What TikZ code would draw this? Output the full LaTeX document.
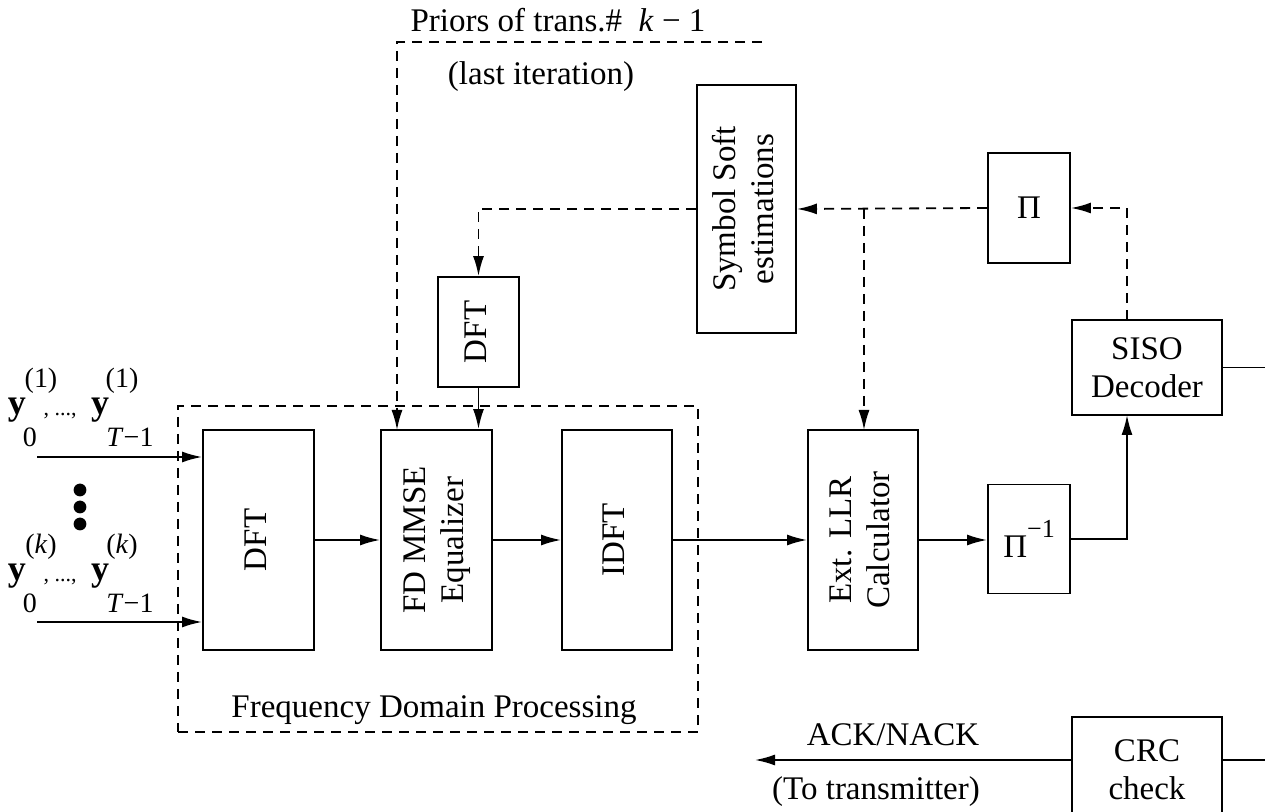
\documentclass[tikz,border=0pt]{standalone}
\usepackage{fontspec}
\setmainfont{Liberation Serif}
\usetikzlibrary{arrows.meta}
\newcommand{\vtext}[1]{\rotatebox{90}{\begin{tabular}{@{}c@{}}#1\end{tabular}}}
\begin{document}
\begin{tikzpicture}[x=0.5pt,y=-0.5pt,
  font=\fontsize{16.5}{19}\selectfont,
  blk/.style={draw,line width=0.95pt,inner sep=0pt,align=center},
  arr/.style={line width=0.9pt,-{Latex[length=10pt,width=5.5pt]}},
  darr/.style={line width=0.9pt,dash pattern=on 5pt off 3.5pt,-{Latex[length=10pt,width=5.5pt]}},
  ln/.style={line width=0.9pt},
  dsh/.style={line width=0.9pt,dash pattern=on 5pt off 3.5pt},
  sm/.style={font=\fontsize{14}{16}\selectfont,inner sep=0pt}]
\useasboundingbox (0,0) rectangle (1265,812);
\clip (0,0) rectangle (1265,812);
% frame
\node[draw,dsh,minimum width=260pt,minimum height=163pt,inner sep=0pt] (frame) at (438,569) {};
\node (fdp) at (434,710) {Frequency Domain Processing};
% blocks
\node[blk,minimum width=55.5pt,minimum height=110pt] (dft) at (258.5,540) {\vtext{DFT}};
\node[blk,minimum width=55.5pt,minimum height=110pt] (eq) at (436.5,540) {\vtext{FD MMSE\\Equalizer}};
\node[blk,minimum width=55pt,minimum height=110pt] (idft) at (617,540) {\vtext{IDFT}};
\node[blk,minimum width=55pt,minimum height=110pt] (llr) at (863,540) {\vtext{Ext. LLR\\Calculator}};
\node[blk,minimum width=41pt,minimum height=54.5pt] (pinv) at (1029,539) {Π\raisebox{1.3ex}{\fontsize{13}{15}\selectfont −1}};
\node[blk,minimum width=75pt,minimum height=47.5pt] (siso) at (1147,367.5) {SISO\\Decoder};
\node[blk,minimum width=41pt,minimum height=55pt] (pi) at (1029,208) {Π};
\node[blk,minimum width=49.5pt,minimum height=124pt] (sse) at (746.5,209) {\vtext{Symbol Soft\\estimations}};
\node[blk,minimum width=40.5pt,minimum height=55pt] (dft2) at (478.5,332) {\vtext{DFT}};
\node[blk,minimum width=75pt,minimum height=53pt] (crc) at (1147,770) {CRC\\check};
% texts
\node (prior) at (558,20) {Priors of trans.\#\ \ \textit{k} − 1};
\node (last) at (541,77) {(last iteration)};
\node (ack) at (893,735) {ACK/NACK};
\node (tot) at (876,792) {(To transmitter)};
% inputs
\node[inner sep=0pt,font=\fontsize{18}{20}\selectfont] (y1a) at (17,410) {\textbf{y}};
\node[sm] (s1a) at (41,381) {(1)};
\node[sm] (b1a) at (30,437) {0};
\node[sm,font=\fontsize{11}{13}\selectfont] (c1) at (60,416) {, ...,};
\node[inner sep=0pt,font=\fontsize{18}{20}\selectfont] (y1b) at (100,410) {\textbf{y}};
\node[sm] (s1b) at (122,381) {(1)};
\node[sm] (b1b) at (130,437) {\textit{T}−1};
\node[inner sep=0pt,font=\fontsize{18}{20}\selectfont] (y2a) at (17,576) {\textbf{y}};
\node[sm] (s2a) at (41,547) {(\textit{k})};
\node[sm] (b2a) at (30,603) {0};
\node[sm,font=\fontsize{11}{13}\selectfont] (c2) at (60,582) {, ...,};
\node[inner sep=0pt,font=\fontsize{18}{20}\selectfont] (y2b) at (100,576) {\textbf{y}};
\node[sm] (s2b) at (122,547) {(\textit{k})};
\node[sm] (b2b) at (130,603) {\textit{T}−1};
\fill (80,490) circle (3.2pt) (80,507) circle (3.2pt) (80,524) circle (3.2pt);
\coordinate (in1) at (37,457);
\coordinate (in2) at (37,622);
\draw[arr] (in1) -- (in1 -| dft.west);
\draw[arr] (in2) -- (in2 -| dft.west);
% main chain
\draw[arr] (dft.east) -- (eq.west);
\draw[arr] (eq.east) -- (idft.west);
\draw[arr] (idft.east) -- (llr.west);
\draw[arr] (llr.east) -- (llr.east -| pinv.west);
\coordinate (sb) at (1127,415);
\coordinate (st) at (1127,320);
\draw[arr] (pinv.east) -| (sb);
\draw[darr] (st) |- (pi.east);
\draw[darr] (pi.west) -- (sse.east);
\coordinate (br) at (864,209);
\coordinate (lt) at (864,430);
\draw[darr] (br) -- (lt);
\draw[darr] (sse.west) -| (dft2.north);
\draw[arr] (dft2.south) -- (dft2.south |- eq.north);
\coordinate (p0) at (762,42);
\coordinate (e1) at (397,430);
\draw[darr] (p0) -| (e1);
\coordinate (so) at (1265,357);
\draw[ln] (siso.east) -- (siso.east -| so);
\coordinate (co) at (1265,760);
\coordinate (ce) at (755,760);
\draw[ln] (crc.east |- co) -- (co);
\draw[arr] (crc.west |- ce) -- (ce);
\end{tikzpicture}
\end{document}
